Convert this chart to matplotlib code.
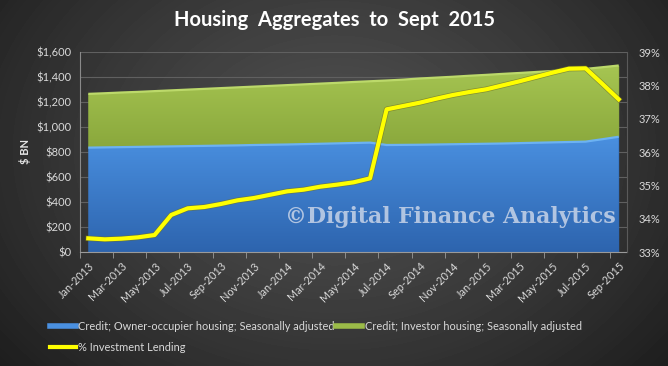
import numpy as np
import matplotlib
matplotlib.use('Agg')
import matplotlib.pyplot as plt
import matplotlib.patheffects as path_effects
from matplotlib.colors import LinearSegmentedColormap
from matplotlib.lines import Line2D
from matplotlib.patches import PathPatch
from matplotlib.ticker import FuncFormatter

months = ['Jan-2013', 'Feb-2013', 'Mar-2013', 'Apr-2013', 'May-2013', 'Jun-2013',
          'Jul-2013', 'Aug-2013', 'Sep-2013', 'Oct-2013', 'Nov-2013', 'Dec-2013',
          'Jan-2014', 'Feb-2014', 'Mar-2014', 'Apr-2014', 'May-2014', 'Jun-2014',
          'Jul-2014', 'Aug-2014', 'Sep-2014', 'Oct-2014', 'Nov-2014', 'Dec-2014',
          'Jan-2015', 'Feb-2015', 'Mar-2015', 'Apr-2015', 'May-2015', 'Jun-2015',
          'Jul-2015', 'Aug-2015', 'Sep-2015']

# $BN
owner = [835, 837, 839, 841, 843, 845, 847, 849, 851, 853, 856, 858,
         860, 863, 866, 869, 872, 875, 856, 857, 858, 860, 862, 864,
         866, 868, 871, 874, 877, 880, 883, 902, 922]
investor = [430, 433, 437, 440, 444, 448, 452, 456, 460, 464, 467, 471,
            475, 478, 481, 484, 488, 491, 516, 522, 530, 535, 540, 546,
            551, 557, 561, 566, 571, 576, 582, 576, 570]
# % of lending that is investment
pct_invest = [33.41, 33.38, 33.40, 33.44, 33.51, 34.11, 34.31, 34.35, 34.44, 34.55, 34.62, 34.72,
              34.82, 34.87, 34.96, 35.02, 35.09, 35.21, 37.28, 37.38, 37.48, 37.60, 37.71, 37.80,
              37.88, 38.00, 38.12, 38.25, 38.38, 38.50, 38.51, 38.05, 37.58]

W, H = 668, 366
fig = plt.figure(figsize=(W / 100, H / 100), dpi=100)

# dark radial background
bg = fig.add_axes([0, 0, 1, 1], zorder=-10)
yy, xx = np.mgrid[0:H, 0:W]
r = np.sqrt(((xx - 334) / 430.0) ** 2 + ((yy - 150) / 330.0) ** 2)
shade = np.clip(0.31 - 0.19 * r ** 1.3, 0.10, 0.31)
bg.imshow(shade, cmap='gray', vmin=0, vmax=1, aspect='auto', extent=[0, 1, 0, 1])
bg.axis('off')

ax = fig.add_axes([80 / W, 114 / H, 547 / W, 200 / H])
ax.set_facecolor('none')
x = np.arange(len(months))
owner = np.array(owner)
total = owner + np.array(investor)

ax.set_xlim(-0.5, len(months) - 0.5)
ax.set_ylim(0, 1600)

def gradient_fill(lower, upper, c_top, c_bot, edge):
    poly = ax.fill_between(x, lower, upper, color=c_bot, lw=0, zorder=2)
    clip = PathPatch(poly.get_paths()[0], transform=ax.transData, fc='none', ec='none')
    cmap = LinearSegmentedColormap.from_list('g', [c_bot, c_top])
    grad = np.linspace(0, 1, 256).reshape(-1, 1)
    im = ax.imshow(grad, cmap=cmap, aspect='auto', origin='lower',
                   extent=[x[0], x[-1], np.min(lower), np.max(upper)], zorder=2.1)
    im.set_clip_path(clip)
    ax.plot(x, upper, color=edge, lw=1.6, zorder=2.5, solid_capstyle='butt')

gradient_fill(owner, total, '#a6c552', '#8aa83c', '#bcd96a')
gradient_fill(np.zeros(len(x)), owner, '#4a90e0', '#2d64ae', '#6cb2f2')
ax.set_xlim(-0.5, len(months) - 0.5)
ax.set_ylim(0, 1600)

ax.set_yticks(np.arange(0, 1601, 200))
ax.yaxis.set_major_formatter(FuncFormatter(lambda v, p: '${:,.0f}'.format(v)))
ax.grid(axis='y', color='#606060', lw=0.8, zorder=0)
ax.set_axisbelow(True)

ax.set_xticks(x[::2])
ax.set_xticklabels(months[::2], rotation=45, ha='right', rotation_mode='anchor')
ax.set_xticks(np.arange(-0.5, len(months), 2), minor=True)
ax.tick_params(axis='x', which='major', length=0, pad=6, labelsize=7.8, colors='#d9d9d9')
ax.tick_params(axis='x', which='minor', length=4, color='#9a9a9a', direction='out')
ax.tick_params(axis='y', length=0, labelsize=8, colors='#d9d9d9', pad=6)
for lbl in ax.get_xticklabels() + ax.get_yticklabels():
    lbl.set_family('Lato')

for s in ['top', 'right']:
    ax.spines[s].set_visible(False)
ax.spines['left'].set_color('#8a8a8a')
ax.spines['bottom'].set_color('#9a9a9a')

ax.set_ylabel('$ BN', color='#e6e6e6', fontsize=8, fontweight='bold', family='Lato', labelpad=4)

ax2 = ax.twinx()
line, = ax2.plot(x, pct_invest, color='#ffff00', lw=3, zorder=5, solid_joinstyle='round')
line.set_path_effects([path_effects.Stroke(linewidth=4, foreground='#6f6f20', alpha=0.6),
                       path_effects.Normal()])
ax2.set_ylim(33, 39)
ax2.set_yticks(np.arange(33, 39.1, 1))
ax2.yaxis.set_major_formatter(FuncFormatter(lambda v, p: '%d%%' % v))
ax2.tick_params(axis='y', length=0, labelsize=8, colors='#d9d9d9', pad=8)
for lbl in ax2.get_yticklabels():
    lbl.set_family('Lato')
for s in ['top', 'left', 'bottom']:
    ax2.spines[s].set_visible(False)
ax2.spines['right'].set_color('#5a5a5a')

# watermark, sized to span the same pixels as the reference
wm = fig.text(285 / W, 1 - 217 / H, '\u00a9Digital Finance Analytics',
              ha='left', va='center', fontsize=15, fontweight='bold', family='DejaVu Serif',
              color='#c8d4e8', alpha=0.85, zorder=4)
fig.canvas.draw()
wm.set_fontsize(15 * 332.0 / wm.get_window_extent().width)

fig.text(0.5, 1 - 20 / H, 'Housing  Aggregates  to  Sept  2015', ha='center', va='center',
         fontsize=14.5, fontweight='bold', color='white', family='Lato')

handles = [Line2D([], [], color='#4a90e0', lw=4),
           Line2D([], [], color='#ffff00', lw=3),
           Line2D([], [], color='#9bbb48', lw=4)]
labels = ['Credit; Owner-occupier housing; Seasonally adjusted',
          '% Investment Lending',
          'Credit; Investor housing; Seasonally adjusted']
leg = fig.legend(handles, labels, ncol=2, loc='upper left', bbox_to_anchor=(40 / W, 1 - 311 / H),
                 frameon=False, handlelength=2.4, handletextpad=0.2,
                 columnspacing=0.1, labelspacing=0.95, prop={'family': 'Lato', 'size': 7.9})
for t in leg.get_texts():
    t.set_color('#d9d9d9')

fig.savefig('out.png', dpi=100, facecolor='#2a2a2a')
